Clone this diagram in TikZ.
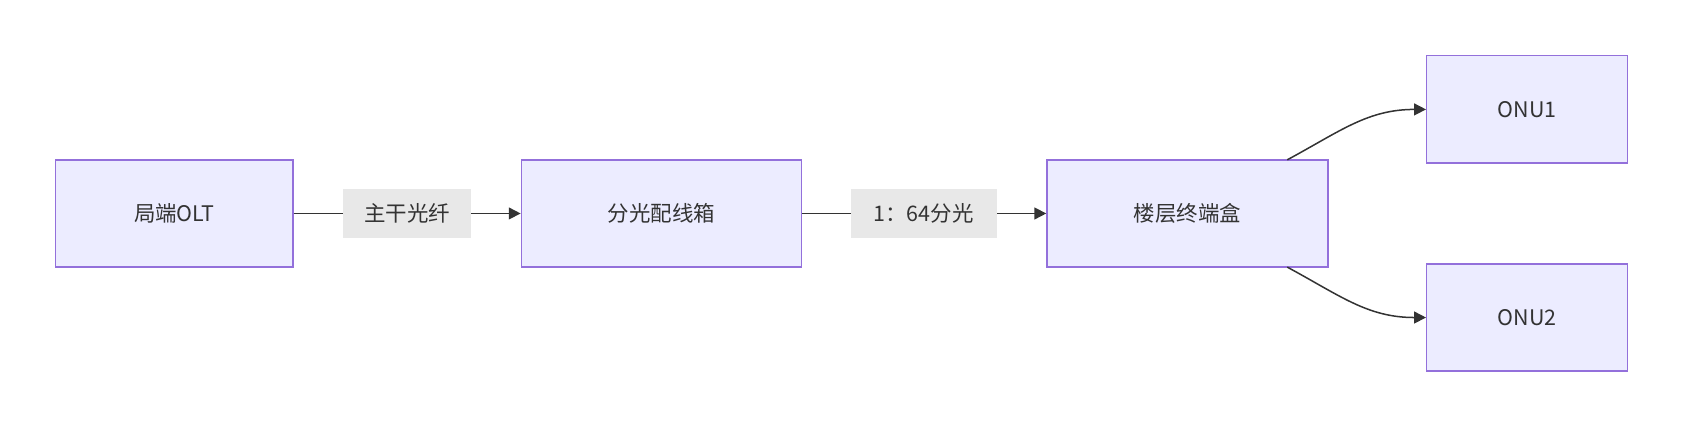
\documentclass[tikz,border=0pt]{standalone}
\usepackage{fontspec}
\setmainfont{Noto Sans CJK SC}
\usetikzlibrary{arrows.meta}
\begin{document}
\begin{tikzpicture}[x=1pt,y=-1pt,
  box/.style={draw=black!0!violet!60!blue!70, draw={rgb,255:red,147;green,112;blue,219}, fill={rgb,255:red,236;green,236;blue,255}, line width=1.3pt, inner sep=0pt, font=\fontsize{20}{24}\selectfont, text={rgb,255:red,51;green,51;blue,51}},
  lbl/.style={fill={rgb,255:red,232;green,232;blue,232}, inner sep=0pt, minimum height=46pt, font=\fontsize{20}{24}\selectfont, text={rgb,255:red,51;green,51;blue,51}},
  conn/.style={draw={rgb,255:red,51;green,51;blue,51}, line width=1.4pt, -{Triangle[length=11pt,width=11pt]}}]
\useasboundingbox (0,0) rectangle (1568,399);
\node[box, minimum width=221pt, minimum height=100pt] (olt) at (162.5,199) {局端OLT};
\node[box, minimum width=261pt, minimum height=100pt] (odf) at (616.5,199) {分光配线箱};
\node[box, minimum width=262pt, minimum height=100pt] (fb) at (1107,199) {楼层终端盒};
\node[box, minimum width=187pt, minimum height=100pt] (o1) at (1423.5,102) {ONU1};
\node[box, minimum width=187pt, minimum height=100pt] (o2) at (1423.5,296) {ONU2};
\draw[conn] (olt) -- (odf);
\draw[conn] (odf) -- (fb);
\node[lbl, minimum width=119pt] (l1) at (379.5,199) {主干光纤};
\node[lbl, minimum width=136pt] (l2) at (861,199) {1：64分光};
\coordinate (s1) at (1200,149);
\coordinate (s2) at (1200,249);
\draw[conn] (s1) .. controls (1250,122) and (1275,102) .. (o1.west);
\draw[conn] (s2) .. controls (1250,276) and (1275,296) .. (o2.west);
\end{tikzpicture}
\end{document}
